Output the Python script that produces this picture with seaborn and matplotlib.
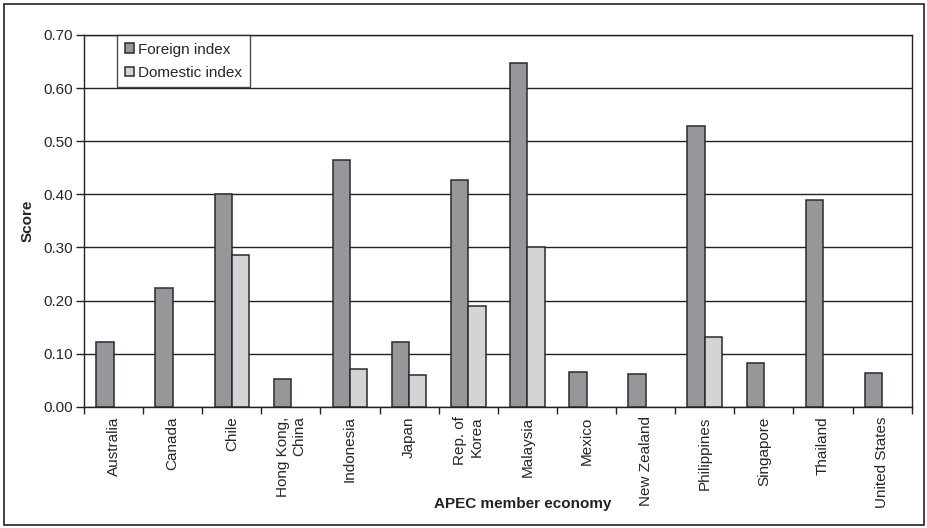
import matplotlib
matplotlib.use("Agg")
import matplotlib.pyplot as plt
import seaborn as sns
import numpy as np
import pandas as pd
from matplotlib.patches import Rectangle

economies = ["Australia", "Canada", "Chile", "Hong Kong,\nChina", "Indonesia",
             "Japan", "Rep. of\nKorea", "Malaysia", "Mexico", "New Zealand",
             "Philippines", "Singapore", "Thailand", "United States"]
foreign_index = [0.121, 0.223, 0.400, 0.053, 0.464, 0.122, 0.427,
                 0.647, 0.065, 0.062, 0.529, 0.082, 0.389, 0.064]
# economies without a domestic index carry no bar
domestic_index = [np.nan, np.nan, 0.285, np.nan, 0.071, 0.059, 0.190,
                  0.301, np.nan, np.nan, 0.131, np.nan, np.nan, np.nan]
series_names = ["Foreign index", "Domestic index"]
y_ticks = [0.0, 0.1, 0.2, 0.3, 0.4, 0.5, 0.6, 0.7]

df = pd.DataFrame({
    "economy": economies * 2,
    "score": foreign_index + domestic_index,
    "series": [series_names[0]] * len(economies) + [series_names[1]] * len(economies),
})

sns.set_theme(style="white")
plt.rcParams["font.family"] = ["Liberation Sans", "DejaVu Sans"]

W, H = 927, 528
fig = plt.figure(figsize=(W / 100, H / 100), dpi=100)
ax_l, ax_r, ax_t, ax_b = 84, 911.7, 35, 406.7
ax = fig.add_axes([ax_l / W, 1 - ax_b / H, (ax_r - ax_l) / W, (ax_b - ax_t) / H])

palette = {"Foreign index": "#96979b", "Domestic index": "#d3d4d6"}
sns.barplot(data=df, x="economy", y="score", hue="series", order=economies,
            hue_order=series_names, palette=palette, width=0.585,
            edgecolor="#2a2a2a", linewidth=1.1, saturation=1, ax=ax, zorder=3)

ax.set_ylim(0, 0.70)
ax.set_xlim(-0.5, len(economies) - 0.5)
ax.set_yticks(y_ticks)
ax.set_yticklabels([f"{v:.2f}" for v in y_ticks], fontsize=11)
ax.yaxis.grid(True, color="#222222", linewidth=1.0, zorder=0)
ax.set_axisbelow(True)

# Category ticks sit between the groups; labels stay centred under each group
ax.set_xticks([i + 0.5 for i in range(-1, len(economies))], minor=False)
ax.set_xticklabels([])
ax.set_xticks(range(len(economies)), minor=True)
ax.set_xticklabels(economies, minor=True, rotation=90, fontsize=11,
                   va="top", ha="center", multialignment="right")
ax.tick_params(axis="x", which="major", direction="out", length=5, width=1,
               color="#222222", bottom=True)
ax.tick_params(axis="x", which="minor", length=0, pad=7)
ax.tick_params(axis="y", direction="out", length=6, width=1, color="#222222",
               left=True, pad=2)

for side in ["left", "bottom", "right", "top"]:
    ax.spines[side].set_visible(True)
    ax.spines[side].set_color("#222222")
    ax.spines[side].set_linewidth(1.0)

ax.set_ylabel("Score", fontsize=11, fontweight="bold")
ax.yaxis.set_label_coords((35 - ax_l) / (ax_r - ax_l), 0.5)
ax.set_xlabel("")
fig.text(523 / W, 1 - 504 / H, "APEC member economy", fontsize=11,
         fontweight="bold", ha="center", va="center", color="#222222")

leg = ax.legend(loc="upper left", bbox_to_anchor=((117 - ax_l) / (ax_r - ax_l), 1.0),
                fontsize=11, frameon=True, fancybox=False, edgecolor="#222222",
                handlelength=0.6, handleheight=0.6, handletextpad=0.3,
                borderpad=0.5, labelspacing=0.6, borderaxespad=0, title=None)
leg.get_frame().set_linewidth(1.0)

fig.patches.append(Rectangle((4 / W, 3 / H), 920 / W, 521 / H, transform=fig.transFigure,
                             fill=False, edgecolor="#222222", linewidth=1.2))

fig.savefig("out.png", dpi=100)
